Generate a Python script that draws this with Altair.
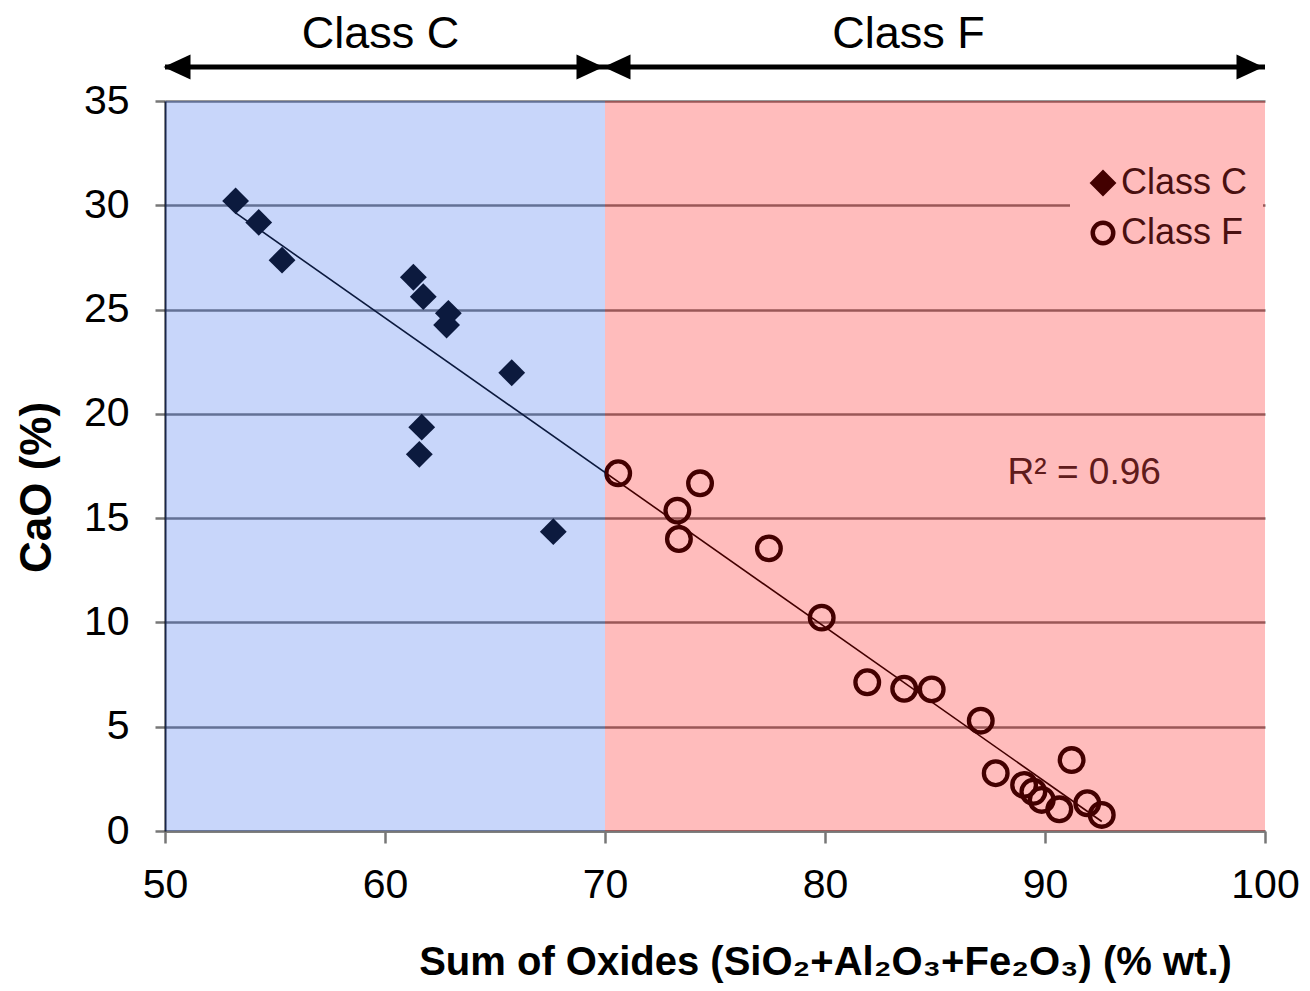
import altair as alt
import pandas as pd

FONT = "Liberation Sans, Arial, sans-serif"

# axis ranges and ticks
x_domain = [50, 100]
y_domain = [0, 35]
x_ticks = [50, 60, 70, 80, 90, 100]
y_ticks = [0, 5, 10, 15, 20, 25, 30, 35]

# data
classes = ["Class C", "Class F"]
class_c_x = [53.21, 54.26, 55.32, 61.29, 61.74, 62.88, 62.80, 65.76, 61.67, 61.56, 67.65]
class_c_y = [30.21, 29.18, 27.37, 26.55, 25.62, 24.82, 24.26, 21.97, 19.36, 18.06, 14.35]
class_f_x = [70.60, 74.32, 73.29, 73.36, 77.45, 79.85, 81.92, 83.60, 84.85, 87.08,
             87.76, 91.21, 89.05, 89.47, 89.85, 90.65, 91.92, 92.58]
class_f_y = [17.15, 16.67, 15.36, 14.00, 13.55, 10.23, 7.13, 6.82, 6.79, 5.29,
             2.77, 3.40, 2.21, 1.88, 1.49, 1.04, 1.33, 0.77]

# class ranges (shaded regions + arrows on top)
region_names = ["Class C", "Class F"]
region_start = [50, 70]
region_end = [70, 100]
region_label_x = [59.8, 83.8]
region_colors = ["#2d63ec", "#ff0000"]

r2_text = ["R\u00b2 = 0.96"]
r2_x = [88.3]
r2_y = [17.15]

x_title = "Sum of Oxides (SiO\u2082+Al\u2082O\u2083+Fe\u2082O\u2083) (% wt.)"
y_title = "CaO (%)"

points = pd.DataFrame({
    "x": class_c_x + class_f_x,
    "y": class_c_y + class_f_y,
    "cls": ["Class C"] * len(class_c_x) + ["Class F"] * len(class_f_x),
})
regions = pd.DataFrame({
    "name": region_names,
    "x0": region_start,
    "x1": region_end,
    "lx": region_label_x,
    "y_lo": [y_domain[0]] * 2,
    "y_hi": [y_domain[1]] * 2,
})
r2_df = pd.DataFrame({"x": r2_x, "y": r2_y, "label": r2_text})

x_scale = alt.Scale(domain=x_domain, nice=False, zero=False)
y_scale = alt.Scale(domain=y_domain, nice=False, zero=False)

x_axis = alt.Axis(
    values=x_ticks, grid=False, title=x_title,
    titleFont=FONT, titleFontSize=40, titleFontWeight="bold", titleColor="black",
    titleX=660, titleY=143, titleAlign="center", titleBaseline="alphabetic",
    labelFont=FONT, labelFontSize=41, labelColor="black", labelPadding=22,
    labelFlush=False, labelOverlap=False,
    tickSize=12, tickColor="#777777", tickWidth=2.5,
    domainColor="#777777", domainWidth=2.5,
)
y_axis = alt.Axis(
    values=y_ticks, grid=True, gridColor="#777777", gridWidth=2.5, title=y_title,
    titleFont=FONT, titleFontSize=44, titleFontWeight="bold", titleColor="black",
    titleAngle=270, titleX=-128, titleY=386, titleAlign="center", titleBaseline="middle",
    labelFont=FONT, labelFontSize=41, labelColor="black", labelPadding=26,
    labelFlush=False, labelOverlap=False,
    tickSize=10, tickColor="#777777", tickWidth=2.5,
    domainColor="#111111", domainWidth=2,
)

def X(field):
    return alt.X(field, type="quantitative", scale=x_scale, axis=x_axis)

def Y(field):
    return alt.Y(field, type="quantitative", scale=y_scale, axis=y_axis)

base = alt.Chart(points)

diamonds = base.transform_filter(alt.datum.cls == "Class C").mark_point(
    shape="diamond", filled=True, color="black", size=720, opacity=1
).encode(x=X("x"), y=Y("y"))

circles = base.transform_filter(alt.datum.cls == "Class F").mark_point(
    shape="circle", filled=False, color="black", size=560, strokeWidth=4.3, opacity=1
).encode(x=X("x"), y=Y("y"))

trend = base.transform_regression("x", "y").mark_line(
    color="black", strokeWidth=1.6
).encode(x=X("x"), y=Y("y"))

r2 = alt.Chart(r2_df).mark_text(
    align="left", baseline="middle", font=FONT, fontSize=37, color="#262626"
).encode(x=X("x"), y=Y("y"), text="label:N")

overlays = []
for name, col in zip(region_names, region_colors):
    overlays.append(
        alt.Chart(regions).transform_filter(alt.datum.name == name).mark_rect(
            color=col, opacity=0.263
        ).encode(x=X("x0"), x2="x1", y=Y("y_lo"), y2="y_hi")
    )

legend = alt.Legend(
    title=None, orient="none", legendX=905, legendY=49,
    fillColor="#ffbcbc", padding=15, labelFont=FONT, labelFontSize=36,
    labelColor="#4a1010", symbolSize=420, symbolStrokeWidth=4.5,
    rowPadding=10, labelOffset=0,
)
legend_layer = base.transform_filter("false").mark_point(
    size=420, strokeWidth=4.5, opacity=1
).encode(
    x=X("x"), y=Y("y"),
    shape=alt.Shape("cls:N", scale=alt.Scale(domain=classes, range=["diamond", "circle"]), legend=legend),
    color=alt.Color("cls:N", scale=alt.Scale(domain=classes, range=["#430000", "#430000"]), legend=legend),
    fill=alt.Fill("cls:N", scale=alt.Scale(domain=classes, range=["#430000", "transparent"]), legend=legend),
)

RIGHT_HEAD = "M1,0L-1,-0.93L-1,0.93Z"
LEFT_HEAD = "M-1,0L1,-0.93L1,0.93Z"
ann = alt.Chart(regions)
arrow_lines = ann.mark_rule(color="black", strokeWidth=5).encode(
    x=X("x0"), x2="x1", y=alt.value(-34)
)
left_heads = ann.mark_point(
    shape=LEFT_HEAD, filled=True, color="black", size=729, opacity=1, xOffset=12, strokeWidth=0
).encode(x=X("x0"), y=alt.value(-34))
right_heads = ann.mark_point(
    shape=RIGHT_HEAD, filled=True, color="black", size=729, opacity=1, xOffset=-15, strokeWidth=0
).encode(x=X("x1"), y=alt.value(-34))
region_text = ann.mark_text(
    font=FONT, fontSize=45, color="black", align="center", baseline="alphabetic"
).encode(x=X("lx"), y=alt.value(-53), text="name:N")

chart = alt.layer(
    diamonds, circles, trend, r2, *overlays, legend_layer,
    arrow_lines, left_heads, right_heads, region_text,
).properties(
    width=1100, height=730,
    padding={"left": 157, "top": 93, "right": 37, "bottom": 152},
    autosize=alt.AutoSizeParams(type="none"),
    background="white",
).configure_view(stroke=None)

chart.save("out.html", embed_options={"renderer": "svg", "actions": False})
